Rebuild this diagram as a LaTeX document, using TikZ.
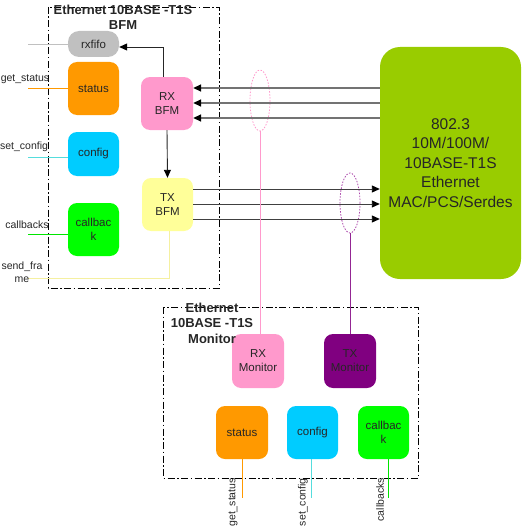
\documentclass[tikz,border=0pt]{standalone}
\usepackage{fontspec}
\setmainfont{Liberation Sans}
\usetikzlibrary{arrows.meta}
\definecolor{cgray}{HTML}{C0C0C0}
\definecolor{corange}{HTML}{FF9900}
\definecolor{ccyan}{HTML}{00CCFF}
\definecolor{cgreen}{HTML}{00FF00}
\definecolor{cpink}{HTML}{FF99CC}
\definecolor{cyellow}{HTML}{FFFF99}
\definecolor{cpurple}{HTML}{800080}
\definecolor{cmac}{HTML}{99CC00}
\definecolor{cteal}{HTML}{55DDDD}
\definecolor{cyline}{HTML}{F5F0A0}
\definecolor{cmagenta}{HTML}{AA44AA}
\tikzset{
  blk/.style={rounded corners=9pt, inner sep=0pt, align=center,
    font=\fontsize{11.5}{14}\selectfont, text=black!85},
  lbl/.style={inner sep=0pt, align=center, font=\fontsize{10.5}{13}\selectfont, text=black!85},
  ttl/.style={inner sep=0pt, align=center, font=\bfseries\fontsize{13}{15.5}\selectfont, text=black!85},
  frame/.style={draw=black, line width=0.9pt, dash pattern=on 7pt off 2.5pt on 1.5pt off 2.5pt},
  tip/.style={-{Triangle[length=8pt,width=7pt,color=black]}},
  rxline/.style={draw=black!55, line width=1.6pt, tip},
  txline/.style={draw=black!75, line width=0.9pt, tip},
}
\begin{document}
\begin{tikzpicture}[x=1pt,y=-1pt]
\useasboundingbox (0,0) rectangle (522,527);
% frames
\draw[frame] (48,7) rectangle (219,288);
\draw[frame] (163,307) rectangle (418,478);
% ellipses
\draw[cpink, line width=0.8pt, dash pattern=on 1.5pt off 1.5pt] (260,100.5) ellipse [x radius=10, y radius=30.5];
\draw[cmagenta, line width=0.8pt, dash pattern=on 1.5pt off 1.5pt] (350,203) ellipse [x radius=10, y radius=30];
% BFM blocks
\node[blk, fill=cgray, minimum width=51pt, minimum height=26pt, rounded corners=11pt] (rxfifo) at (93.5,44) {rxfifo};
\node[blk, fill=corange, minimum width=51pt, minimum height=53pt] (status) at (93.5,88.5) {status};
\node[blk, fill=ccyan, minimum width=51pt, minimum height=44pt] (config) at (93.5,154) {config};
\node[blk, fill=cgreen, minimum width=51pt, minimum height=53pt] (callback) at (93.5,229.5) {callbac\\k};
\node[blk, fill=cpink, minimum width=52pt, minimum height=53pt] (rxbfm) at (167,103.5) {RX\\BFM};
\node[blk, fill=cyellow, minimum width=51pt, minimum height=53pt] (txbfm) at (167.5,204.5) {TX\\BFM};
% MAC
\node[blk, fill=cmac, minimum width=141pt, minimum height=232pt, rounded corners=20pt,
  font=\fontsize{15.5}{19.5}\selectfont] (mac) at (450.5,163) {802.3\\ 10M/100M/\\10BASE-T1S\\Ethernet\\MAC/PCS/Serdes};
% Monitor blocks
\node[blk, fill=cpink, minimum width=52pt, minimum height=54pt] (rxmon) at (258,361) {RX\\Monitor};
\node[blk, fill=cpurple, minimum width=52pt, minimum height=54pt] (txmon) at (350,361) {TX\\Monitor};
\node[blk, fill=corange, minimum width=52pt, minimum height=53pt] (mstatus) at (242,432.5) {status};
\node[blk, fill=ccyan, minimum width=51pt, minimum height=53pt] (mconfig) at (312.5,432.5) {config};
\node[blk, fill=cgreen, minimum width=51pt, minimum height=53pt] (mcallback) at (383.5,432.5) {callbac\\k};
% titles
\node[ttl] (bfmtitle) at (123,17.5) {Ethernet 10BASE -T1S\\BFM};
\node[ttl] (montitle) at (212,323) {Ethernet\\10BASE -T1S\\Monitor};
% left labels and lines
\coordinate (l1) at (28,44);
\coordinate (l2) at (28,88);
\coordinate (l3) at (28,157);
\coordinate (l4) at (28,234);
\coordinate (l5) at (28,278);
\draw[cgray, line width=0.9pt] (l1) -- (rxfifo.west |- l1);
\draw[corange, line width=0.9pt] (l2) -- (status.west |- l2);
\draw[cteal, line width=0.9pt] (l3) -- (config.west |- l3);
\draw[cgreen!90!black, line width=0.9pt] (l4) -- (callback.west |- l4);
\coordinate (sf) at (169,278);
\draw[cyline, line width=0.9pt] (txbfm.south -| sf) -- (sf) -- (l5);
\node[lbl] (lgs) at (25,79) {get\_status};
\node[lbl] (lsc) at (24,147) {set\_config};
\node[lbl] (lcb) at (27,225) {callbacks};
\node[lbl] (lsf) at (22,272) {send\_fra\\me};
% rx bfm -> rxfifo
\coordinate (rf) at (163,47);
\draw[black!85, line width=0.9pt, tip] (rxbfm.north -| rf) -- (rf) -- (rxfifo.east |- rf);
\draw[black!85, line width=0.9pt, tip] (rxbfm.south) -- (txbfm.north);
% MAC <-> BFM
\foreach \y [count=\i] in {88,103,118} {
  \coordinate (ry\i) at (0,\y);
  \draw[rxline] (mac.west |- ry\i) -- (rxbfm.east |- ry\i);
}
\foreach \y [count=\i] in {189,204,219} {
  \coordinate (ty\i) at (0,\y);
  \draw[txline] (txbfm.east |- ty\i) -- (mac.west |- ty\i);
}
% monitor taps
\coordinate (pe) at (260,131);
\coordinate (me) at (350,233);
\draw[cpink, line width=0.9pt] (pe) -- (rxmon.north -| pe);
\draw[cpurple!85, line width=0.9pt] (me) -- (txmon.north -| me);
% monitor bottom lines and labels
\coordinate (b1) at (242,498);
\coordinate (b2) at (311,498);
\coordinate (b3) at (388,498);
\draw[corange, line width=0.9pt] (mstatus.south -| b1) -- (b1);
\draw[cteal, line width=0.9pt] (mconfig.south -| b2) -- (b2);
\draw[cgreen!90!black, line width=0.9pt] (mcallback.south -| b3) -- (b3);
\node[lbl, rotate=90, anchor=east] (mgs) at (233,478) {get\_status};
\node[lbl, rotate=90, anchor=east] (msc) at (303,478) {set\_config};
\node[lbl, rotate=90, anchor=east] (mcb) at (380,478) {callbacks};
\end{tikzpicture}
\end{document}
